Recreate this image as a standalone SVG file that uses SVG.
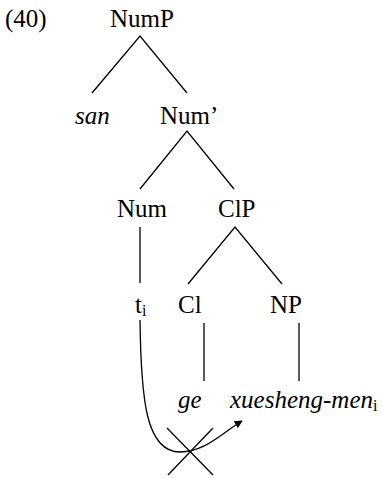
<svg xmlns="http://www.w3.org/2000/svg" width="383" height="478" viewBox="0 0 383 478">
<style>
.t{font-family:'Liberation Serif',serif;font-size:25px;fill:#000}
.it{font-style:italic}
.sub{font-size:16px;font-style:normal}
.ln{stroke:#000;stroke-width:1.3;fill:none}
</style>
<defs>
<marker id="ah" viewBox="0 0 10 10" refX="9" refY="5" markerWidth="8" markerHeight="8" markerUnits="userSpaceOnUse" orient="auto">
<path d="M0,0 L10,5 L0,10 z" fill="#000"/>
</marker>
</defs>
<g font-family="Liberation Serif, serif" font-size="25">
<text class="t" x="5" y="27">(40)</text>
<g id="NumP"><text class="t" x="110" y="27">NumP</text></g>
<g id="san"><text class="t it" x="75" y="124" font-style="italic">san</text></g>
<g id="NumBar"><text class="t" x="160" y="124">Num’</text></g>
<g id="Num"><text class="t" x="117" y="217">Num</text></g>
<g id="ClP"><text class="t" x="218" y="217">ClP</text></g>
<g id="t"><text class="t" x="135" y="313">t<tspan class="sub" font-size="16" dy="3">i</tspan></text></g>
<g id="Cl"><text class="t" x="178" y="313">Cl</text></g>
<g id="NP"><text class="t" x="270" y="313">NP</text></g>
<g id="ge"><text class="t it" x="178" y="408" font-style="italic">ge</text></g>
<g id="xuesheng"><text class="t it" x="230" y="408" font-style="italic">xuesheng-men<tspan class="sub" font-size="16" font-style="normal" dy="3">i</tspan></text></g>
</g>
<g id="connectors">
<path class="ln" d="M92,93 L140,36 L187,93"/>
<path class="ln" d="M140,189 L187,131 L234,189"/>
<path class="ln" d="M140,227 L140,283"/>
<path class="ln" d="M188,284 L235,227 L282,284"/>
<path class="ln" d="M204,323 L204,381"/>
<path class="ln" d="M299,323 L299,381"/>
<path class="ln" d="M140,320 C141,400 146,452 180,452 C205,452 222,433 242,421" marker-end="url(#ah)"/>
<path class="ln" d="M167,428 L213,475"/>
<path class="ln" d="M213,428 L168,475"/>
</g>
</svg>
